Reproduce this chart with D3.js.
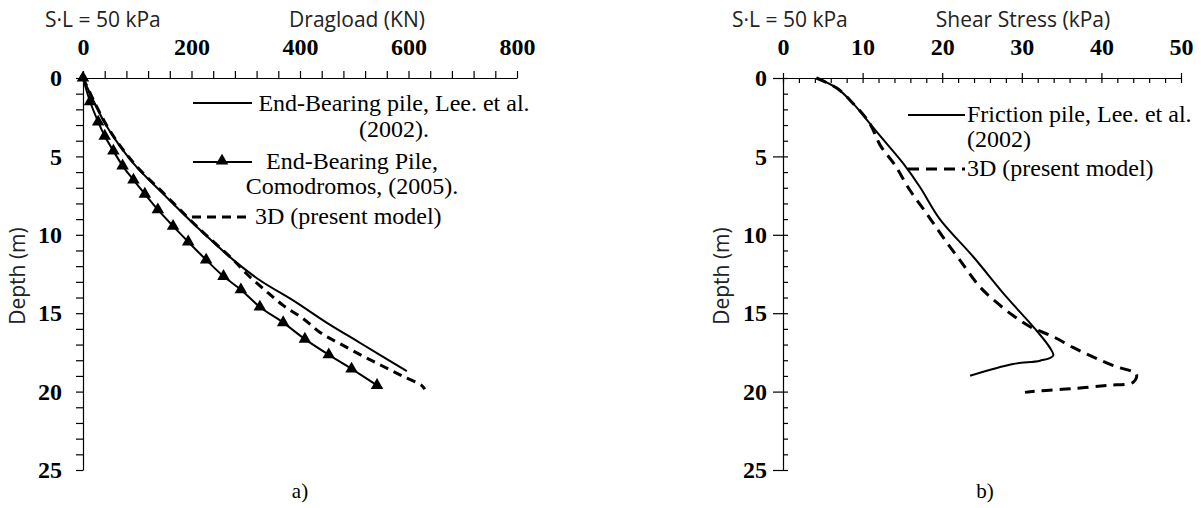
<!DOCTYPE html>
<html>
<head>
<meta charset="utf-8">
<script src="https://cdn.jsdelivr.net/npm/d3@7"></script>
<style>
  body { margin: 0; background: #fff; }
  svg { display: block; }
  .tick text { font-family: "Liberation Serif", "Times New Roman", serif; font-weight: bold; font-size: 24px; fill: #000; }
  .ttl { font-family: "Open Sans", "Noto Sans", sans-serif; font-size: 21px; fill: #222; }
  .leg { font-family: "Liberation Serif", "Times New Roman", serif; font-size: 24px; fill: #000; }
  .cap { font-family: "Liberation Serif", "Times New Roman", serif; font-size: 21px; fill: #000; }
</style>
</head>
<body>
<svg id="fig" width="1201" height="508"></svg>
<script>
// ---- chart a) dragload vs depth ----
var leeEndKN    = [0, 44, 93, 154, 216, 277, 326, 388, 449, 511, 597];
var leeEndDepth = [0, 3.1, 5.45, 7.6, 9.7, 11.6, 12.9, 14.2, 15.6, 16.9, 18.7];

var comoKN    = [0, 13, 28, 40, 56, 73, 93, 114, 138, 166, 194, 227, 259, 291, 326, 369, 409, 453, 495, 542];
var comoDepth = [0, 1.5, 2.8, 3.7, 4.65, 5.6, 6.5, 7.4, 8.4, 9.45, 10.45, 11.6, 12.65, 13.5, 14.6, 15.6, 16.65, 17.65, 18.55, 19.6];

var model3dKN    = [0, 45, 93, 153, 214, 277, 302, 336, 369, 406, 440, 474, 514, 551, 588, 624, 630];
var model3dDepth = [0, 3.1, 5.4, 7.5, 9.6, 11.6, 12.5, 13.55, 14.5, 15.35, 16.3, 16.95, 17.7, 18.35, 19.0, 19.6, 19.85];

// ---- chart b) shear stress vs depth ----
var leeFricKPa   = [4.2, 6.8, 8.8, 10.9, 13.0, 15.1, 17.2, 19.7, 23.9, 28.1, 31.5, 33.5, 33.95, 32.3, 28.9, 23.5];
var leeFricDepth = [0, 0.66, 1.62, 2.9, 4.17, 5.45, 6.95, 9.0, 11.4, 13.98, 15.9, 17.18, 17.7, 18.03, 18.24, 18.99];

var shear3dKPa   = [4.2, 6.8, 8.8, 10.9, 12.2, 14.07, 15.95, 18.05, 20.1, 22.2, 24.7, 26.8, 28.9, 31.2, 33.95, 36.5, 39, 41.5, 44.4, 44, 40.7, 36.5, 32.3, 30.4];
var shear3dDepth = [0, 0.66, 1.62, 2.9, 4.28, 5.56, 7.16, 8.65, 10.15, 11.6, 13.3, 14.3, 15.15, 15.9, 16.5, 17.2, 17.8, 18.35, 18.9, 19.4, 19.6, 19.8, 19.95, 20.05];

var dragTicks  = [0, 200, 400, 600, 800];
var shearTicks = [0, 10, 20, 30, 40, 50];
var depthTicks = [0, 5, 10, 15, 20, 25];

function pts(xs, ys) { return xs.map(function(v, i) { return [v, ys[i]]; }); }

(function(d3) {
  var svg = d3.select("#fig");
  var top = 78, bottom = 470;
  var tri = d3.symbol().type(d3.symbolTriangle).size(68);

  // ================= chart a =================
  var xa = d3.scaleLinear().domain([0, 800]).range([83, 517]);
  var ya = d3.scaleLinear().domain([0, 25]).range([top, bottom]);
  var ga = svg.append("g");

  ga.append("g").attr("transform", "translate(0," + top + ")")
    .call(d3.axisTop(xa).tickValues(d3.range(0, 801, 40)).tickFormat("").tickSize(7).tickSizeOuter(0));
  ga.append("g").attr("transform", "translate(0," + top + ")")
    .call(d3.axisTop(xa).tickValues(dragTicks).tickFormat(d3.format("d")).tickSize(0).tickPadding(23))
    .select(".domain").remove();
  ga.append("g").attr("transform", "translate(83,0)")
    .call(d3.axisLeft(ya).tickValues(d3.range(0, 26, 1)).tickFormat("").tickSize(7).tickSizeOuter(0));
  ga.append("g").attr("transform", "translate(83,0)")
    .call(d3.axisLeft(ya).tickValues(depthTicks).tickFormat(d3.format("d")).tickSize(0).tickPadding(21))
    .select(".domain").remove();

  var lineA = d3.line().curve(d3.curveCatmullRom.alpha(0.5))
    .x(function(d) { return xa(d[0]); }).y(function(d) { return ya(d[1]); });

  ga.append("path").attr("d", lineA(pts(leeEndKN, leeEndDepth)))
    .attr("fill", "none").attr("stroke", "#000").attr("stroke-width", 2);
  ga.append("path").attr("d", lineA(pts(model3dKN, model3dDepth)))
    .attr("fill", "none").attr("stroke", "#000").attr("stroke-width", 3).attr("stroke-dasharray", "9,6");
  ga.append("path").attr("d", lineA(pts(comoKN, comoDepth)))
    .attr("fill", "none").attr("stroke", "#000").attr("stroke-width", 2);
  ga.selectAll(".tri").data(pts(comoKN, comoDepth)).enter().append("path")
    .attr("class", "tri")
    .attr("transform", function(d) { return "translate(" + xa(d[0]) + "," + ya(d[1]) + ")"; })
    .attr("d", tri);

  ga.append("text").attr("class", "ttl").attr("x", 45).attr("y", 27).text("S·L = 50 kPa");
  ga.append("text").attr("class", "ttl").attr("x", 357).attr("y", 27).attr("text-anchor", "middle").text("Dragload (KN)");
  ga.append("text").attr("class", "ttl").attr("transform", "translate(25,276) rotate(-90)")
    .attr("text-anchor", "middle").text("Depth (m)");
  ga.append("text").attr("class", "cap").attr("x", 300).attr("y", 498).attr("text-anchor", "middle").text("a)");

  // legend a
  var la = ga.append("g");
  la.append("line").attr("x1", 193).attr("x2", 252).attr("y1", 103).attr("y2", 103).attr("stroke", "#000").attr("stroke-width", 2);
  la.append("text").attr("class", "leg").attr("x", 394).attr("y", 111).attr("text-anchor", "middle").text("End-Bearing pile, Lee. et al.");
  la.append("text").attr("class", "leg").attr("x", 394).attr("y", 137).attr("text-anchor", "middle").text("(2002).");
  la.append("line").attr("x1", 193).attr("x2", 252).attr("y1", 162).attr("y2", 162).attr("stroke", "#000").attr("stroke-width", 2);
  la.append("path").attr("transform", "translate(222,161)").attr("d", tri);
  la.append("text").attr("class", "leg").attr("x", 352).attr("y", 169).attr("text-anchor", "middle").text("End-Bearing Pile,");
  la.append("text").attr("class", "leg").attr("x", 352).attr("y", 194).attr("text-anchor", "middle").text("Comodromos, (2005).");
  la.append("line").attr("x1", 192).attr("x2", 252).attr("y1", 217).attr("y2", 217).attr("stroke", "#000").attr("stroke-width", 3).attr("stroke-dasharray", "9,6");
  la.append("text").attr("class", "leg").attr("x", 255).attr("y", 224).text("3D (present model)");

  // ================= chart b =================
  var xb = d3.scaleLinear().domain([0, 50]).range([783, 1181]);
  var yb = d3.scaleLinear().domain([0, 25]).range([top, bottom]);
  var gb = svg.append("g");

  gb.append("g").attr("transform", "translate(0," + top + ")")
    .call(d3.axisTop(xb).tickValues(d3.range(0, 51, 2).filter(function(v) { return v % 10; })).tickFormat("").tickSize(-5).tickSizeOuter(0));
  gb.append("g").attr("transform", "translate(0," + (top + 5) + ")")
    .call(d3.axisTop(xb).tickValues(shearTicks).tickFormat(d3.format("d")).tickSize(10).tickPadding(18))
    .select(".domain").remove();
  gb.append("g").attr("transform", "translate(783,0)")
    .call(d3.axisLeft(yb).tickValues(d3.range(0, 26, 1).filter(function(v) { return v % 5; })).tickFormat("").tickSize(-5).tickSizeOuter(0));
  gb.append("g").attr("transform", "translate(788,0)")
    .call(d3.axisLeft(yb).tickValues(depthTicks).tickFormat(d3.format("d")).tickSize(15).tickPadding(6))
    .select(".domain").remove();

  var lineB = d3.line().curve(d3.curveCatmullRom.alpha(0.5))
    .x(function(d) { return xb(d[0]); }).y(function(d) { return yb(d[1]); });

  gb.append("path").attr("d", lineB(pts(leeFricKPa, leeFricDepth)))
    .attr("fill", "none").attr("stroke", "#000").attr("stroke-width", 2);
  gb.append("path").attr("d", lineB(pts(shear3dKPa, shear3dDepth)))
    .attr("fill", "none").attr("stroke", "#000").attr("stroke-width", 3).attr("stroke-dasharray", "11,7");

  gb.append("text").attr("class", "ttl").attr("x", 732).attr("y", 27).text("S·L = 50 kPa");
  gb.append("text").attr("class", "ttl").attr("x", 1023).attr("y", 27).attr("text-anchor", "middle").text("Shear Stress (kPa)");
  gb.append("text").attr("class", "ttl").attr("transform", "translate(729,276) rotate(-90)")
    .attr("text-anchor", "middle").text("Depth (m)");
  gb.append("text").attr("class", "cap").attr("x", 985).attr("y", 498).attr("text-anchor", "middle").text("b)");

  // legend b
  var lb = gb.append("g");
  lb.append("line").attr("x1", 908).attr("x2", 965).attr("y1", 115).attr("y2", 115).attr("stroke", "#000").attr("stroke-width", 2);
  lb.append("text").attr("class", "leg").attr("x", 967).attr("y", 122).text("Friction pile, Lee. et al.");
  lb.append("text").attr("class", "leg").attr("x", 967).attr("y", 147).text("(2002)");
  lb.append("line").attr("x1", 908).attr("x2", 965).attr("y1", 169).attr("y2", 169).attr("stroke", "#000").attr("stroke-width", 3).attr("stroke-dasharray", "11,7");
  lb.append("text").attr("class", "leg").attr("x", 967).attr("y", 176).text("3D (present model)");

  svg.selectAll(".domain, .tick line").attr("stroke", "#000").attr("stroke-width", 1.2);
})(window.d3);
</script>
</body>
</html>
